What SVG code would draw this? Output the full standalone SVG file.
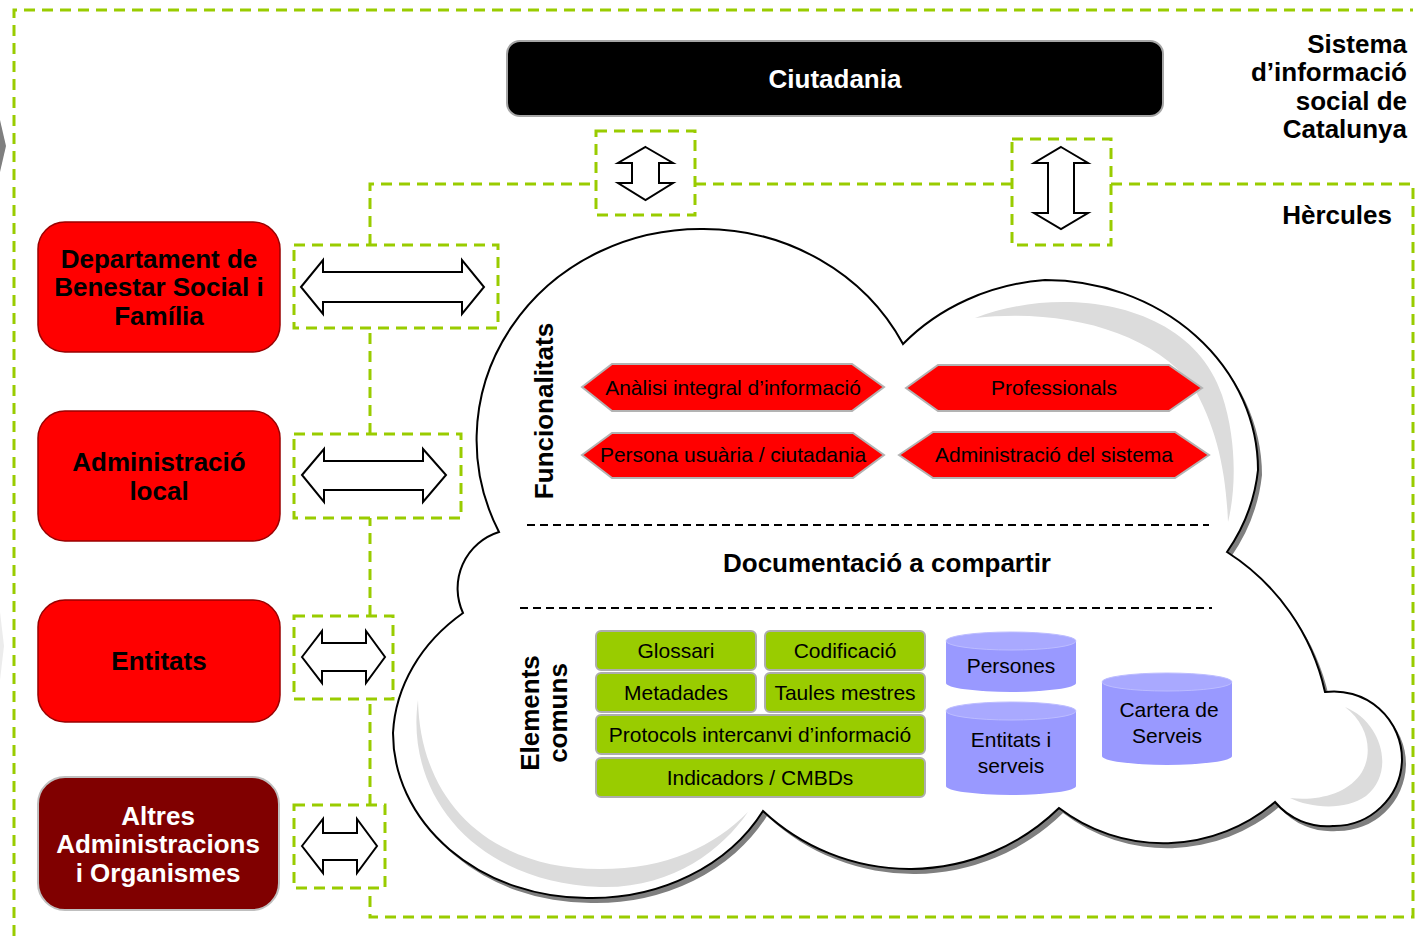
<svg xmlns="http://www.w3.org/2000/svg" width="1419" height="936" viewBox="0 0 1419 936">
<style>
.gd{fill:none;stroke:#99cc00;stroke-width:3;stroke-dasharray:11 7}
.arr{fill:#fff;stroke:#000;stroke-width:2;stroke-linejoin:miter}
.hex{fill:#ff0000;stroke:#b3b3b3;stroke-width:2}
.grn{fill:#99cc00;stroke:#adadad;stroke-width:2}
.cylb{fill:#9999ff}
.cylt{fill:#a9a9ff;stroke:#bcbcff;stroke-width:1}
.b26{font-family:"Liberation Sans",Arial,sans-serif;font-weight:bold;font-size:26px}
.r21{font-family:"Liberation Sans",Arial,sans-serif;font-size:21px}
.mid{text-anchor:middle}
.end{text-anchor:end}
.dl{stroke:#000;stroke-width:2;stroke-dasharray:8 5;fill:none}
.hl{fill:#dcdcdc}
</style>
<defs>
<path id="cloudp" d="M499,532 A224,211 0 0 1 702,229 A224,211 0 0 1 903,344 A213,190 0 0 1 1045,280 A213,190 0 0 1 1258,470 A213,190 0 0 1 1227,552 A223,223 0 0 1 1325,692 A68,68 0 0 1 1402,760 A68,68 0 0 1 1333,826 A68,68 0 0 1 1275,802 A172,172 0 0 1 1059,808 A214,214 0 0 1 763,811 A194,165 0 0 1 587,898 A194,165 0 0 1 393,733 A194,165 0 0 1 463,613 A59,59 0 0 1 499,532 Z"/>
</defs>
<rect width="1419" height="936" fill="#fff"/>

<!-- edge fragments -->
<polygon points="0,120 6,146 0,172" fill="#7f7f7f"/>
<polygon points="0,612 4,646 0,680" fill="#ececec"/>

<!-- cloud -->
<g id="cloud">
<use href="#cloudp" transform="translate(4,5)" fill="#7f7f7f"/>
<use href="#cloudp" fill="#fff" stroke="#000" stroke-width="2"/>
<path class="hl" d="M975,318 C1060,285 1190,300 1222,395 C1237,440 1236,490 1228,522 C1226,470 1216,425 1192,385 C1150,330 1060,308 975,318 Z"/>
<path class="hl" d="M1345,707 C1382,722 1396,772 1366,796 C1345,811 1310,808 1290,798 C1316,801 1345,795 1360,775 C1374,755 1369,725 1345,707 Z"/>
<path class="hl" d="M418,700 C405,792 472,882 600,887 C672,889 722,850 748,812 C714,846 668,869 600,869 C490,869 420,802 418,700 Z"/>
</g>

<!-- connectors -->
<g id="connectors">
<path class="gd" d="M14,936 V10 H1413"/>
<path class="gd" d="M370,245 V184 H596 M695,184 H1012 M1111,184 H1413 V917 H370 V888 M370,805 V699 M370,616 V518 M370,434 V328"/>
<rect class="gd" x="294" y="245" width="204" height="83"/>
<rect class="gd" x="294" y="434" width="167" height="84"/>
<rect class="gd" x="294" y="616" width="99" height="83"/>
<rect class="gd" x="294" y="805" width="91" height="83"/>
<rect class="gd" x="596" y="131" width="99" height="84"/>
<rect class="gd" x="1012" y="139" width="99" height="106"/>
<polygon class="arr" points="301,287 323,260 323,272 462,272 462,260 484,287 462,314 462,302 323,302 323,314"/>
<polygon class="arr" points="302,475 324,449 324,461 423,461 423,449 446,475 423,502 423,490 324,490 324,502"/>
<polygon class="arr" points="302,657 322,631 322,643 366,643 366,631 385,657 366,683 366,671 322,671 322,683"/>
<polygon class="arr" points="302,846 323,819 323,833 357,833 357,819 377,846 357,873 357,860 323,860 323,873"/>
<polygon class="arr" points="645.5,147 673,163 659,163 659,183 673,183 645.5,200 618,183 632,183 632,163 618,163"/>
<polygon class="arr" points="1061,147 1088,163 1074,163 1074,213 1088,213 1061,229 1034,213 1048,213 1048,163 1034,163"/>
</g>

<!-- titles -->
<g id="sistema">
<text class="b26 end" x="1407" y="53">Sistema</text>
<text class="b26 end" x="1407" y="81">d’informació</text>
<text class="b26 end" x="1407" y="110">social de</text>
<text class="b26 end" x="1407" y="138">Catalunya</text>
</g>
<g id="hercules"><text class="b26 end" x="1392" y="224">Hèrcules</text></g>

<g id="ciutadania">
<rect x="507" y="41" width="656" height="75" rx="13" fill="#000" stroke="#a6a6a6" stroke-width="2"/>
<text class="b26 mid" x="835" y="88" fill="#fff">Ciutadania</text>
</g>

<g id="departament">
<rect x="38" y="222" width="242" height="130" rx="27" fill="#ff0000" stroke="#990000" stroke-width="1.5"/>
<text class="b26 mid" x="159" y="268">Departament de</text>
<text class="b26 mid" x="159" y="296">Benestar Social i</text>
<text class="b26 mid" x="159" y="325">Família</text>
</g>
<g id="admlocal">
<rect x="38" y="411" width="242" height="130" rx="27" fill="#ff0000" stroke="#990000" stroke-width="1.5"/>
<text class="b26 mid" x="159" y="471">Administració</text>
<text class="b26 mid" x="159" y="500">local</text>
</g>
<g id="entitats">
<rect x="38" y="600" width="242" height="122" rx="27" fill="#ff0000" stroke="#990000" stroke-width="1.5"/>
<text class="b26 mid" x="159" y="670">Entitats</text>
</g>
<g id="altres">
<rect x="38" y="777" width="241" height="133" rx="27" fill="#800000" stroke="#bfbfbf" stroke-width="2"/>
<text class="b26 mid" x="158" y="825" fill="#fff">Altres</text>
<text class="b26 mid" x="158" y="853" fill="#fff">Administracions</text>
<text class="b26 mid" x="158" y="882" fill="#fff">i Organismes</text>
</g>

<!-- cloud content -->
<g id="funcionalitats">
<text class="b26 mid" transform="translate(553,411) rotate(-90)">Funcionalitats</text>
</g>
<g id="hex1">
<polygon class="hex" points="582,387 612,364 852,364 884,387 852,411 612,411"/>
<text class="r21 mid" x="733" y="395">Anàlisi integral d’informació</text>
</g>
<g id="hex2">
<polygon class="hex" points="906,388 938,365 1169,365 1202,388 1169,411 938,411"/>
<text class="r21 mid" x="1054" y="395">Professionals</text>
</g>
<g id="hex3">
<polygon class="hex" points="582,455 612,433 853,433 884,455 853,478 612,478"/>
<text class="r21 mid" x="733" y="462">Persona usuària / ciutadania</text>
</g>
<g id="hex4">
<polygon class="hex" points="899,455 933,432 1175,432 1209,455 1175,478 933,478"/>
<text class="r21 mid" x="1054" y="462">Administració del sistema</text>
</g>

<g id="separadors">
<line class="dl" x1="527" y1="525" x2="1209" y2="525"/>
<line class="dl" x1="520" y1="608" x2="1212" y2="608"/>
</g>
<g id="documentacio"><text class="b26 mid" x="887" y="572">Documentació a compartir</text></g>

<g id="elements">
<text class="b26 mid" transform="translate(539,713) rotate(-90)">Elements</text>
<text class="b26 mid" transform="translate(567,713) rotate(-90)">comuns</text>
</g>

<g id="glossari"><rect class="grn" x="596" y="631" width="160" height="39" rx="5"/><text class="r21 mid" x="676" y="658">Glossari</text></g>
<g id="codificacio"><rect class="grn" x="765" y="631" width="160" height="39" rx="5"/><text class="r21 mid" x="845" y="658">Codificació</text></g>
<g id="metadades"><rect class="grn" x="596" y="673" width="160" height="39" rx="5"/><text class="r21 mid" x="676" y="700">Metadades</text></g>
<g id="taules"><rect class="grn" x="765" y="673" width="160" height="39" rx="5"/><text class="r21 mid" x="845" y="700">Taules mestres</text></g>
<g id="protocols"><rect class="grn" x="596" y="715" width="329" height="39" rx="5"/><text class="r21 mid" x="760" y="742">Protocols intercanvi d’informació</text></g>
<g id="indicadors"><rect class="grn" x="596" y="758" width="329" height="39" rx="5"/><text class="r21 mid" x="760" y="785">Indicadors / CMBDs</text></g>

<g id="persones">
<path class="cylb" d="M946,641 V683 A65,9 0 0 0 1076,683 V641 Z"/>
<ellipse class="cylt" cx="1011" cy="641" rx="65" ry="9"/>
<text class="r21 mid" x="1011" y="673">Persones</text>
</g>
<g id="entitatsserveis">
<path class="cylb" d="M946,711 V786 A65,9 0 0 0 1076,786 V711 Z"/>
<ellipse class="cylt" cx="1011" cy="711" rx="65" ry="9"/>
<text class="r21 mid" x="1011" y="747">Entitats i</text>
<text class="r21 mid" x="1011" y="773">serveis</text>
</g>
<g id="cartera">
<path class="cylb" d="M1102,682 V756 A65,9 0 0 0 1232,756 V682 Z"/>
<ellipse class="cylt" cx="1167" cy="682" rx="65" ry="9"/>
<text class="r21 mid" x="1169" y="717">Cartera de</text>
<text class="r21 mid" x="1167" y="743">Serveis</text>
</g>
</svg>
